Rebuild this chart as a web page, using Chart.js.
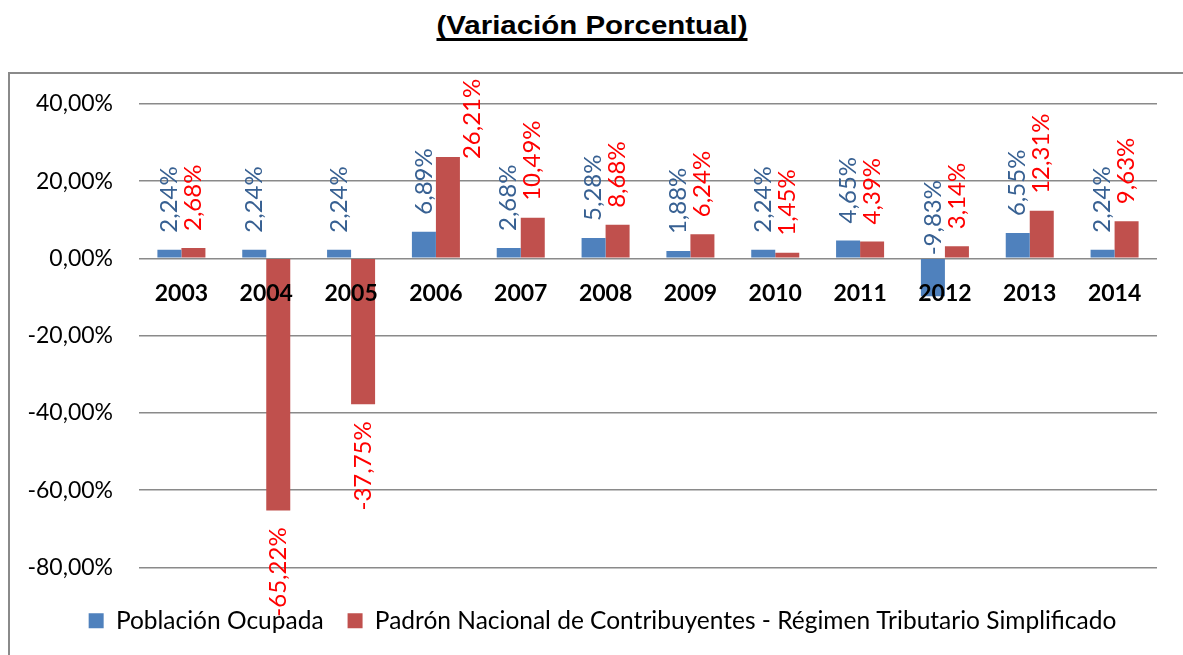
<!DOCTYPE html>
<html>
<head>
<meta charset="utf-8">
<script src="https://cdn.jsdelivr.net/npm/chart.js@4.4.1/dist/chart.umd.min.js"></script>
<style>
  html, body { margin: 0; padding: 0; background: #fff; overflow: hidden; }
  body { width: 1183px; height: 655px; position: relative; }
  #title { position: absolute; left: 0; top: 11px; width: 1183px; text-align: center; }
  #title span { display: inline-block; font: bold 25px "Liberation Sans", Arial, sans-serif; color: #000;
    text-decoration: underline; text-decoration-thickness: 3px; text-underline-offset: 4px;
    text-decoration-skip-ink: none; transform-origin: center; }
  #box { position: absolute; left: 8px; top: 72px; width: 1175px; height: 583px;
    border-left: 2px solid #8a8a8a; border-top: 2px solid #8a8a8a; box-sizing: border-box; }
  canvas { position: absolute; left: 0; top: -10px; }
</style>
</head>
<body>
<div id="title"><span id="tt">(Variación Porcentual)</span></div>
<div id="box"><canvas id="c" width="1173" height="591"></canvas></div>
<script>
const years = ['2003','2004','2005','2006','2007','2008','2009','2010','2011','2012','2013','2014'];
const poblacionOcupada = [2.24, 2.24, 2.24, 6.89, 2.68, 5.28, 1.88, 2.24, 4.65, -9.83, 6.55, 2.24];
const padronRTS = [2.68, -65.22, -37.75, 26.21, 10.49, 8.68, 6.24, 1.45, 4.39, 3.14, 12.31, 9.63];
const yTickValues = [40, 20, 0, -20, -40, -60, -80];
const seriesNames = ['Población Ocupada', 'Padrón Nacional de Contribuyentes - Régimen Tributario Simplificado'];

// fit title width
(function(){
  const s = document.getElementById('tt');
  const w = s.getBoundingClientRect().width;
  s.style.transform = 'scaleX(' + (311 / w) + ')';
})();

const fmt = v => v.toFixed(2).replace('.', ',') + '%';

const legendShift = {
  id: 'legendShift',
  afterLayout(chart) {
    if (chart.legend) { chart.legend.left += 19; chart.legend.right += 19; }
  }
};

const labelPlugin = {
  id: 'barLabels',
  afterDatasetsDraw(chart) {
    const ctx = chart.ctx;
    const yScale = chart.scales.y;
    const zeroY = yScale.getPixelForValue(0);
    const colors = ['#376092', '#FF0000'];
    ctx.save();
    ctx.font = '24px Lato, "Noto Sans", sans-serif';
    ctx.textBaseline = 'middle';
    chart.data.datasets.forEach((ds, di) => {
      const meta = chart.getDatasetMeta(di);
      meta.data.forEach((el, i) => {
        const v = ds.data[i];
        const txt = fmt(v);
        const tw = ctx.measureText(txt).width;
        const gap = 17;
        let x = el.x, y, align;
        if (v >= 0) {
          y = el.y - gap; align = 'left';
          if (y - tw < chart.chartArea.top - 20) { x = el.x + el.width; y = el.y + 2; }
        } else if (v > -15) {
          y = zeroY - 3; align = 'left';
        } else {
          y = el.y + gap; align = 'right';
        }
        ctx.save();
        ctx.translate(x, y);
        ctx.rotate(-Math.PI / 2);
        ctx.textAlign = align;
        ctx.fillStyle = colors[di];
        ctx.fillText(txt, 0, 0);
        ctx.restore();
      });
    });
    ctx.restore();
  }
};

new Chart(document.getElementById('c'), {
  type: 'bar',
  data: {
    labels: years,
    datasets: [
      { label: seriesNames[0], data: poblacionOcupada, backgroundColor: '#4F81BD', borderWidth: 0 },
      { label: seriesNames[1], data: padronRTS, backgroundColor: '#C0504D', borderWidth: 0 }
    ]
  },
  options: {
    responsive: false,
    animation: false,
    devicePixelRatio: 1,
    datasets: { bar: { categoryPercentage: 0.566, barPercentage: 1.0 } },
    layout: { padding: { left: 0, right: 26, top: 19, bottom: 12 } },
    plugins: {
      legend: {
        position: 'bottom',
        labels: {
          font: { family: 'Lato, "Noto Sans", sans-serif', size: 24.5 },
          color: '#000',
          boxWidth: 15, boxHeight: 15, padding: 24
        }
      },
      tooltip: { enabled: false },
      title: { display: false }
    },
    scales: {
      x: {
        position: { y: 0 },
        grid: { display: false, drawTicks: false },
        border: { display: false },
        ticks: { z: 1, font: { family: 'Lato, "Noto Sans", sans-serif', size: 23, weight: 'bold' }, color: '#000', padding: 21, maxRotation: 0 }
      },
      x2: {
        type: 'category',
        labels: years,
        position: 'bottom',
        grid: { display: false, drawTicks: false },
        border: { display: false },
        ticks: { display: false },
        afterFit: s => { s.height = 17; }
      },
      y: {
        min: -80, max: 40,
        afterBuildTicks: s => { s.ticks = yTickValues.map(v => ({ value: v })); },
        afterFit: s => { s.width = 129; },
        grid: { color: '#8a8a8a', lineWidth: 1.5, drawTicks: false },
        border: { display: false },
        ticks: {
          font: { family: 'Lato, "Noto Sans", sans-serif', size: 23 },
          color: '#000', padding: 26,
          callback: v => fmt(v)
        }
      }
    }
  },
  plugins: [labelPlugin, legendShift]
});
</script>
</body>
</html>
